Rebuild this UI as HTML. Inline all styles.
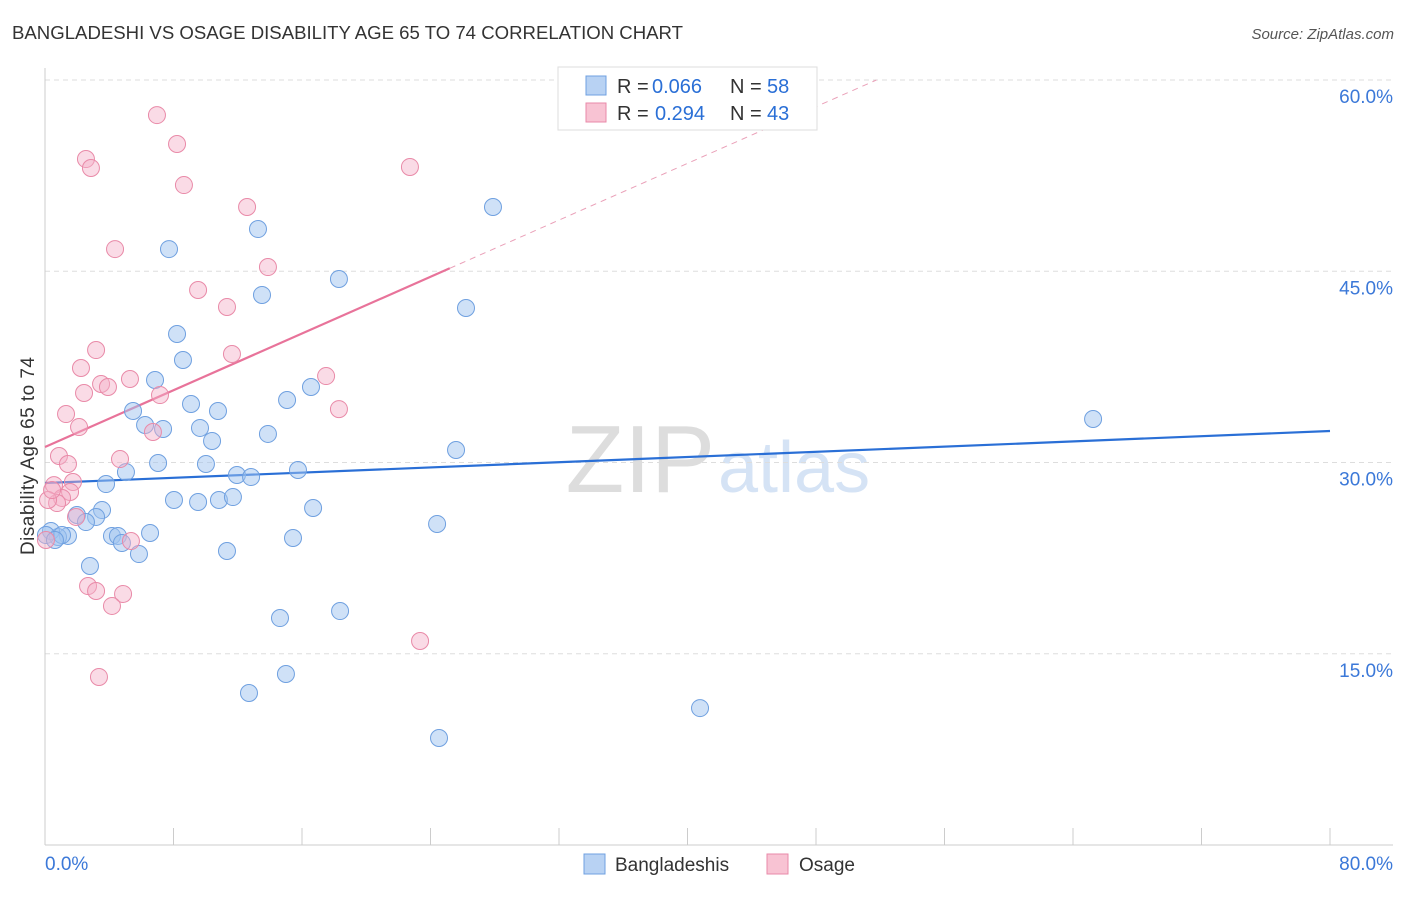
<!DOCTYPE html>
<html><head><meta charset="utf-8"><style>
body{margin:0;background:#fff;font-family:"Liberation Sans",sans-serif}
svg text{font-family:"Liberation Sans",sans-serif}
</style></head><body>
<svg width="1406" height="892" xmlns="http://www.w3.org/2000/svg" id="chart">
<text x="12" y="39" font-size="18" fill="#333" textLength="671" lengthAdjust="spacingAndGlyphs">BANGLADESHI VS OSAGE DISABILITY AGE 65 TO 74 CORRELATION CHART</text>
<text x="1394" y="39" font-size="15" fill="#555" text-anchor="end" font-style="italic">Source: ZipAtlas.com</text>
<text x="715" y="492" font-size="96" fill="#ddd" text-anchor="end" font-family="Liberation Serif">ZIP</text>
<text x="718" y="492" font-size="72" fill="#d5e3f5">atlas</text>
<g id="grid"></g><g id="axes"></g><g id="trend"></g><g id="pts"></g>
<text transform="translate(34,456) rotate(-90)" font-size="19" fill="#333" text-anchor="middle" textLength="198">Disability Age 65 to 74</text>
<g>
<rect x="558" y="67" width="259" height="63" fill="#fff" stroke="#ddd"/>
<rect x="586" y="76" width="20" height="19" fill="#b8d2f3" stroke="#6fa0e0"/>
<rect x="586" y="103" width="20" height="19" fill="#f8c3d3" stroke="#e98aa8"/>
<text x="617" y="93" font-size="20" fill="#333">R =</text>
<text x="652" y="93" font-size="20" fill="#2a6fd6">0.066</text>
<text x="730" y="93" font-size="20" fill="#333">N =</text>
<text x="767" y="93" font-size="20" fill="#2a6fd6">58</text>
<text x="617" y="120" font-size="20" fill="#333">R =</text>
<text x="655" y="120" font-size="20" fill="#2a6fd6">0.294</text>
<text x="730" y="120" font-size="20" fill="#333">N =</text>
<text x="767" y="120" font-size="20" fill="#2a6fd6">43</text>
</g>
<g>
<rect x="584" y="854" width="21" height="20" fill="#b8d2f3" stroke="#6fa0e0"/>
<text x="615" y="871" font-size="19" fill="#333">Bangladeshis</text>
<rect x="767" y="854" width="21" height="20" fill="#f8c3d3" stroke="#e98aa8"/>
<text x="799" y="871" font-size="19" fill="#333">Osage</text>
</g>
</svg>
<script>
const yTicks=[15,30,45,60];
const yTickLabels=["15.0%","30.0%","45.0%","60.0%"];
const xTickLabels=["0.0%","80.0%"];
const blueX=[27.89,13.26,7.72,13.51,18.30,26.21,8.22,8.59,6.85,16.56,15.07,9.09,5.48,10.77,6.23,7.35,9.65,10.40,13.88,25.59,7.04,10.02,5.04,15.75,11.95,12.83,3.80,8.03,9.53,10.83,11.70,3.55,16.69,1.99,3.18,2.55,6.54,24.41,4.17,4.54,4.79,1.43,0.81,0.37,0.06,2.80,5.85,11.33,15.44,14.63,18.37,12.70,15.00,24.53,40.78,65.25,1.06,0.62];
const blueY=[50.04,48.31,46.74,43.14,44.39,42.12,40.08,38.04,36.47,35.92,34.90,34.59,34.04,34.04,32.94,32.63,32.71,31.69,32.24,30.98,29.96,29.88,29.25,29.41,29.02,28.86,28.31,27.06,26.90,27.06,27.29,26.27,26.43,25.88,25.73,25.33,24.47,25.18,24.24,24.24,23.69,24.24,24.16,24.63,24.31,21.88,22.82,23.06,24.08,17.80,18.35,11.92,13.41,8.39,10.74,33.41,24.31,23.92];
const pinkX=[6.97,8.22,2.55,2.86,22.72,8.65,12.58,4.36,13.88,9.53,11.33,3.18,11.64,2.24,17.50,3.49,3.92,5.29,2.43,7.16,1.31,18.30,2.12,6.72,4.67,0.87,1.43,1.74,0.56,1.56,1.06,0.75,1.93,5.35,2.68,3.18,4.86,4.17,23.35,3.36,0.19,0.44,0.06];
const pinkY=[57.25,54.98,53.80,53.10,53.18,51.76,50.04,46.74,45.33,43.53,42.20,38.82,38.51,37.41,36.78,36.16,35.92,36.55,35.45,35.29,33.80,34.19,32.78,32.39,30.27,30.51,29.88,28.47,28.23,27.69,27.22,26.82,25.73,23.84,20.31,19.92,19.69,18.75,16.00,13.18,27.06,27.84,23.92];
const blueTrend=[28.39,0.051];
const pinkTrend=[31.22,0.556];
const NS="http://www.w3.org/2000/svg";
const sx=v=>45+v/80*1285, sy=v=>845-v/60*765;
function mk(p,t,a){const e=document.createElementNS(NS,t);for(const k in a)e.setAttribute(k,a[k]);document.getElementById(p).appendChild(e);return e;}
yTicks.forEach((t,i)=>{
 const l=mk('grid','line',{x1:45,x2:1393,y1:sy(t),y2:sy(t),stroke:'#ddd','stroke-dasharray':'5,4'});
 
 
 const tx=mk('grid','text',{x:1393,y:sy(t)+23,'font-size':19,fill:'#3b78d8','text-anchor':'end'});
 tx.textContent=yTickLabels[i];
 
 
});
const ax=mk('axes','line',{x1:45,x2:1393,y1:845,y2:845,stroke:'#ccc'});


const ay=mk('axes','line',{x1:45,x2:45,y1:68,y2:845,stroke:'#ccc'});


for(let k=0;k<=10;k++){const t=mk('axes','line',{x1:sx(k*8),x2:sx(k*8),y1:828,y2:845,stroke:'#ccc'});
 
 }
[[0,45,'start'],[1,1393,'end']].forEach(([i,x,a])=>{const t=mk('axes','text',{x:x,y:870,'font-size':19,fill:'#3b78d8','text-anchor':a});t.textContent=xTickLabels[i];
 
 });
const bl=mk('trend','line',{x1:sx(0),y1:sy(blueTrend[0]),x2:sx(80),y2:sy(blueTrend[0]+80*blueTrend[1]),stroke:'#2a6fd6','stroke-width':2.2});


const xe=(60-pinkTrend[0])/pinkTrend[1];
const pd=mk('trend','line',{x1:sx(25.2),y1:sy(pinkTrend[0]+25.2*pinkTrend[1]),x2:sx(xe),y2:sy(60),stroke:'#eaa0b8','stroke-width':1,'stroke-dasharray':'6,5'});


const pl=mk('trend','line',{x1:sx(0),y1:sy(pinkTrend[0]),x2:sx(25.2),y2:sy(pinkTrend[0]+25.2*pinkTrend[1]),stroke:'#e8739a','stroke-width':2.2});


blueX.forEach((v,i)=>{const c=mk('pts','circle',{cx:sx(v),cy:sy(blueY[i]),r:8.5,fill:'rgba(160,195,240,0.5)',stroke:'#6fa0e0','stroke-width':1});
 
 });
pinkX.forEach((v,i)=>{const c=mk('pts','circle',{cx:sx(v),cy:sy(pinkY[i]),r:8.5,fill:'rgba(245,175,200,0.45)',stroke:'#e98aa8','stroke-width':1});
 
 });
</script>
</body></html>
